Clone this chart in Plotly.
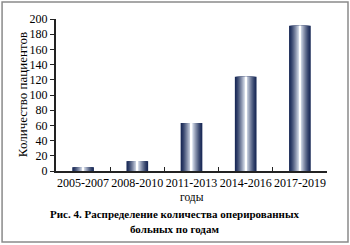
import plotly.graph_objects as go

categories = ["2005-2007", "2008-2010", "2011-2013", "2014-2016", "2017-2019"]
patients = [5, 13, 63, 124, 191]
y_ticks = [0, 20, 40, 60, 80, 100, 120, 140, 160, 180, 200]

FONT = "Liberation Serif, Times New Roman, serif"

def lerp(c1, c2, t):
    return "#%02x%02x%02x" % tuple(int(round(a + (b - a) * t)) for a, b in zip(c1, c2))

dark = (0x1b, 0x2b, 0x58)
light = (0xe4, 0xea, 0xf4)

fig = go.Figure()
N = 10
bar_w = 0.4
for k in range(N):
    t = k / (N - 1)
    w = bar_w * (1 - k / N)
    fig.add_trace(go.Bar(
        x=categories, y=patients, width=w,
        marker=dict(color=lerp(dark, light, t ** 1.3), line=dict(width=0)),
        showlegend=False, hoverinfo="skip",
    ))
fig.add_trace(go.Bar(
    x=categories, y=patients, width=0.025,
    marker=dict(color="#ffffff", line=dict(width=0)),
    showlegend=False, hoverinfo="skip",
))

fig.update_layout(
    width=350, height=245,
    margin=dict(l=56, r=23, t=19, b=74),
    paper_bgcolor="white", plot_bgcolor="white",
    barmode="overlay",
    font=dict(family=FONT, size=12, color="black"),
    xaxis=dict(
        type="category", range=[-0.5, 4.5], tickangle=0,
        showline=True, linecolor="#222", linewidth=1.5,
        ticks="inside", tickson="boundaries", ticklen=4, tickcolor="#222", tickwidth=1,
        showgrid=False, tickfont=dict(family=FONT, size=12, color="black"),
    ),
    yaxis=dict(
        range=[0, 200], tickvals=y_ticks,
        showline=True, linecolor="#222", linewidth=2,
        ticks="outside", ticklen=4, tickcolor="#222", tickwidth=1,
        showgrid=False, zeroline=False,
        tickfont=dict(family=FONT, size=12, color="black"),
    ),
    shapes=[dict(
        type="rect", xref="paper", yref="paper",
        x0=-0.199, x1=1.0775, y0=-0.467, y1=1.112,
        line=dict(color="#8a8a8a", width=1.5),
    )],
    annotations=[
        dict(text="Количество пациентов", xref="paper", yref="paper",
             x=-0.125, y=0.5, textangle=-90, showarrow=False,
             xanchor="center", yanchor="middle",
             font=dict(family=FONT, size=13, color="black")),
        dict(text="годы", xref="paper", yref="paper",
             x=0.5, y=-0.175, showarrow=False, xanchor="center", yanchor="middle",
             font=dict(family=FONT, size=11.5, color="black")),
        dict(text="<b>Рис. 4. Распределение количества оперированных</b>",
             xref="paper", yref="paper", x=0.439, y=-0.283, showarrow=False,
             xanchor="center", yanchor="middle",
             font=dict(family=FONT, size=11, color="black")),
        dict(text="<b>больных по годам</b>",
             xref="paper", yref="paper", x=0.439, y=-0.382, showarrow=False,
             xanchor="center", yanchor="middle",
             font=dict(family=FONT, size=11, color="black")),
    ],
)

fig.write_html("out.html")
